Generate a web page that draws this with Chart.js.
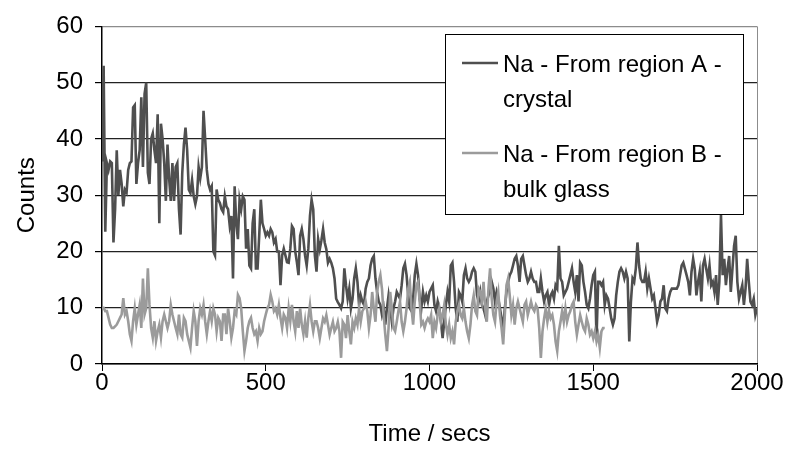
<!DOCTYPE html>
<html lang="en">
<head>
  <meta charset="UTF-8" />
  <title>Na counts</title>
  <script src="https://cdn.jsdelivr.net/npm/chart.js"></script>
  <style>
    body { margin: 0; background: #fff; }
    #wrap { width: 787px; height: 460px; }
  </style>
</head>
<body>
  <div id="wrap"><canvas id="naChart" width="787" height="460"></canvas></div>

  <script>
    // sample spacing in seconds
    const sampleStep = 5;
    const xTicks = [0, 500, 1000, 1500, 2000];
    const yTicks = [0, 10, 20, 30, 40, 50, 60];

    const labelA = ["Na - From region A -", "crystal"];
    const labelB = ["Na - From region B -", "bulk glass"];

    // region A - crystal, 0..2000 s
    const naCrystal = [
      36, 53, 23.5, 35.7, 34.5, 36, 35.7, 21.6, 27.5, 38, 30, 34.5, 32, 28, 31, 30.5, 34.5, 35.7, 36, 45.6,
      46, 32, 35.7, 38, 47.4, 35, 48, 50, 34, 32, 40, 41, 38, 35.7, 44.4, 25, 42.7, 40, 35.7, 29,
      39, 33, 29, 35.7, 29, 35, 35.7, 27.5, 23, 33.9, 39, 42, 38, 31, 30.4, 32.7, 29.8, 28.4, 29.8, 35,
      33, 35, 45, 40, 34.5, 32,
      31, 31.6, 20, 19.3, 31, 29.2, 28.6, 27.5, 27, 29.8, 28, 27.5, 24.6, 26.3, 15.2, 31.6, 25, 22.2, 29.2, 27.5,
      29.8, 29.2, 20.5, 24, 17.5, 17, 25, 27.5, 17, 17, 22.8, 29.2, 25, 24, 22.8, 23.4, 22.8, 24, 23.4, 21.6,
      22.2, 20, 20, 14, 19.3, 20.5, 19.3, 18.1, 18, 20.5, 24.5, 24, 20, 18.1, 15.8, 22.8, 24, 22.2, 19.3, 17.5,
      20.5, 26.3, 29.2, 27.5, 19.3, 16.4, 22.2,
      20.4, 22, 24, 21.6, 20.4, 18, 18.7, 18, 17, 15.2, 11.6, 11, 10.5, 9.9, 11.1, 17, 14, 11.6, 13.4, 9.9,
      11.6, 15.2, 17, 14.6, 10.5, 12.2, 11.1, 10.5, 13.4, 14.6, 15.2, 17.5, 18.7, 19.2, 15.2, 12.8, 11.1, 10.5, 8.7, 9.9,
      7, 9.9, 12.2, 9.9, 7.5, 9.9, 11.1, 12.8, 12.2, 11.6, 14, 17, 17.8, 15.8, 12.2, 9.9, 9.4, 11.6, 15.8, 17.8,
      15.8, 11.6, 9.9, 12.8, 11.1, 12.2, 11.1,
      12.8, 13.4, 14, 10.5, 9.4, 11.1, 9.9, 7.5, 4.6, 7.5, 10.5, 12.8, 11.1, 17.5, 18, 14.6, 9.9, 7.5, 12.8, 12.2,
      11.1, 15.8, 17, 15.2, 14.6, 15.2, 16.4, 17, 16.4, 12.2, 11.1, 12.8, 10.5, 9.9, 8.7, 11.1, 12.2, 12.8, 14.6, 13.4,
      11.1, 12.8, 11.6, 9.9, 8.1, 6.4, 9.9, 12.8, 14.6, 15.8, 16.4, 17.5, 18.7, 19.2, 17.5, 14.6, 18.7, 19.2, 17.5, 15.8,
      14.6, 15.2, 16.4, 15.2, 14.6, 14.6, 12.8,
      12.8, 15.2, 12.8, 11.1, 12.2, 12.8, 10.5, 12.2, 12.8, 11.6, 14, 13.4, 21, 15.2, 14.6, 12.2, 12.8, 13.4, 14.6, 15.8,
      17, 14.6, 12.8, 15.8, 11.1, 18, 17.5, 14.6, 12.8, 10.5, 9.9, 11.6, 14, 15.8, 16.4, 4.6, 14.6, 14.6, 14, 14.6,
      10.5, 12.2, 11.6, 9.9, 8.1, 7, 8.1, 12.2, 14.6, 16.4, 17, 16.4, 15.2, 16.4, 15.2, 4, 11.1, 15.2, 14.6, 17,
      21.6, 17.5, 15.2, 14.6, 14.6, 16.4, 13.4,
      15.2, 13.4, 11.6, 12.2, 9.9, 7.5, 8.7, 11.1, 11.6, 14, 9.9, 9.4, 11.6, 12.8, 13.4, 13.4, 13.4, 13.4, 14, 15.8,
      17.5, 18, 16.9, 15.8, 14.6, 12.2, 16.4, 18.7, 16.9, 12.2, 14.6, 16.4, 11.1, 17.5, 18.7, 16.9, 15.2, 17.5, 14, 14.6,
      12.8, 15.8, 10.5, 14.6, 26.5, 15.8, 18.7, 14, 16.9, 19.2, 12.8, 16.9, 21, 22.8, 14.6, 11.6, 12.8, 14, 10.5, 13.4,
      18.7, 14.6, 11.1, 10.5, 11.6, 8.7, 9.9
    ];

    // region B - bulk glass, 0..1535 s
    const naGlass = [
      10, 10, 9.4, 9.4, 8.2, 7, 6.4, 6.4, 6.7, 7, 7.6, 8.2, 8.8, 11.7, 8.8, 9.4, 7.6, 5.3, 4.1, 7.6,
      9.9, 7, 8.8, 10.5, 6.4, 15.2, 8.8, 9.9, 17, 10.5, 6.4, 4.7, 7.6, 4.1, 5.8, 7, 4.7, 7.6, 8.8, 7.6,
      6.4, 7.6, 10.5, 8.8, 7.6, 6.4, 5.3, 8.8, 5.3, 4.7, 8.2, 7.6, 5.3, 4.1, 2.9, 6.4, 9.4, 7.6, 3.2, 7.6,
      9.9, 8.8, 10.5, 7.6, 5.3, 7.6,
      9.4, 7.6, 9.9, 8.8, 5.8, 8.2, 7.6, 4.1, 8.8, 8.8, 5.3, 9.9, 7.6, 4.7, 6.4, 9.4, 8.8, 12.3, 11.7, 9.9,
      5.8, 2.3, 4.1, 6.4, 7.6, 8.2, 6.4, 5.3, 5.8, 4.1, 6.4, 5.3, 5.8, 7.6, 8.8, 9.9, 10.5, 12.3, 11.1, 9.4,
      9.9, 8.8, 10.5, 8.2, 6.4, 8.8, 8.2, 6.4, 9.9, 7.6, 10.5, 7.6, 5.8, 9.4, 6.4, 9.9, 7, 5.3, 7.6, 4.7,
      8.2, 10.5, 7.6, 5.8, 7.6, 7.6, 6.4,
      4.6, 6.4, 8.1, 7.5, 8.7, 7, 5.2, 6.4, 7.5, 5.8, 6.4, 7.5, 5.8, 1.1, 7.5, 7, 4.6, 8.7, 5.8, 3.5,
      7.5, 6.4, 8.1, 7, 9.9, 7.5, 9.4, 9.9, 11.1, 9.4, 6.4, 8.7, 12.8, 9.9, 7.5, 12.8, 14.6, 15.8, 13.3, 8.7,
      5.2, 2.3, 6.4, 12.8, 9.9, 6.4, 5.8, 7.5, 9.4, 11.1, 7.5, 5.8, 7.5, 9.9, 13.4, 14.6, 9.9, 7, 11.1, 14,
      14.6, 11.1, 7, 7.5, 6.4, 7.5, 8.1,
      7.5, 8.7, 4.6, 7.5, 6.4, 8.7, 9.9, 7.5, 8.7, 10.5, 7, 5.2, 7, 4.6, 5.8, 3.5, 7.5, 9.4, 10.5, 8.7,
      8.1, 9.9, 7.5, 5.8, 4.6, 7, 10.5, 12.2, 9.4, 8.7, 13.4, 12.8, 11.1, 14.6, 9.9, 7.5, 13.4, 17, 11.6, 8.7,
      7.5, 11.1, 12.8, 8.7, 6.4, 3.5, 8.7, 14, 15.2, 12.2, 8.7, 10.5, 7, 9.9, 11.1, 9.9, 8.7, 7.5, 10.5, 11.1,
      8.7, 9.9, 11.1, 9.9, 9.4, 10.5, 9.9,
      6.4, 1.1, 5.8, 8.1, 9.9, 7.5, 9.4, 8.1, 8.7, 7, 4, 2.3, 5.8, 7.5, 9.4, 7.5, 9.9, 7.5, 8.7, 9.4,
      10.5, 11.1, 7.5, 5.2, 7, 8.7, 7.5, 6.4, 5.8, 8.1, 7, 5.2, 5.8, 4.6, 5.8, 4, 5.2, 2.9, 5.8, 6.4,
      6.4
    ];

    const colorA = "#4f4f4f";
    const colorB = "#9b9b9b";

    function toPoints(values) {
      return values.map((v, i) => ({ x: i * sampleStep, y: v }));
    }

    // boxed legend with wrapped labels, drawn on top of the plot
    const boxLegend = {
      id: "boxLegend",
      afterDraw(chart) {
        const ctx = chart.ctx;
        const x0 = 445, y0 = 34, w = 298, h = 180;
        ctx.save();
        ctx.fillStyle = "#fff";
        ctx.fillRect(x0, y0, w, h);
        ctx.strokeStyle = "#000";
        ctx.lineWidth = 1;
        ctx.strokeRect(x0 + 0.5, y0 + 0.5, w, h);

        const entries = [
          { lines: labelA, color: colorA, y: 63 },
          { lines: labelB, color: colorB, y: 153 }
        ];
        ctx.font = "24px 'Liberation Sans', Arial, sans-serif";
        ctx.textBaseline = "middle";
        ctx.fillStyle = "#000";
        entries.forEach(e => {
          ctx.strokeStyle = e.color;
          ctx.lineWidth = 2.5;
          ctx.beginPath();
          ctx.moveTo(462, e.y);
          ctx.lineTo(498, e.y);
          ctx.stroke();
          e.lines.forEach((t, i) => ctx.fillText(t, 503, e.y + 2 + i * 35));
        });
        ctx.restore();
      }
    };

    Chart.defaults.font.family = "'Liberation Sans', Arial, sans-serif";
    Chart.defaults.font.size = 24;
    Chart.defaults.color = "#000";

    new Chart(document.getElementById("naChart"), {
      type: "line",
      data: {
        datasets: [
          {
            label: labelA.join(" "),
            data: toPoints(naCrystal),
            borderColor: colorA,
            borderWidth: 2.6,
            pointRadius: 0,
            tension: 0,
            order: 1
          },
          {
            label: labelB.join(" "),
            data: toPoints(naGlass),
            borderColor: colorB,
            borderWidth: 2.6,
            pointRadius: 0,
            tension: 0,
            order: 0
          }
        ]
      },
      options: {
        responsive: false,
        animation: false,
        layout: { padding: { top: 22, right: 30, left: 0, bottom: 0 } },
        plugins: {
          legend: { display: false },
          tooltip: { enabled: false }
        },
        scales: {
          x: {
            type: "linear",
            min: xTicks[0],
            max: xTicks[xTicks.length - 1],
            afterBuildTicks: s => { s.ticks = xTicks.map(v => ({ value: v })); },
            afterFit: s => { s.height = 96; },
            ticks: { padding: 0, font: { size: 24, lineHeight: 1 }, callback: v => String(v) },
            grid: {
              color: c => (c.tick && c.tick.value === 2000 ? "#8c8c8c" : "rgba(0,0,0,0)"),
              tickColor: "#000",
              tickLength: 7
            },
            border: { color: "#000", width: 1.5 },
            title: {
              display: true,
              text: "Time / secs",
              font: { size: 24 },
              padding: { top: 0, bottom: 11 }
            }
          },
          y: {
            min: yTicks[0],
            max: yTicks[yTicks.length - 1],
            afterBuildTicks: s => { s.ticks = yTicks.map(v => ({ value: v })); },
            afterFit: s => { s.width = 102; },
            ticks: { padding: 12, font: { size: 24 }, callback: v => String(v) },
            grid: {
              color: c => (c.tick && c.tick.value === 60 ? "#8c8c8c" : "#222"),
              tickColor: "#000",
              tickLength: 7,
              lineWidth: 1.2
            },
            border: { color: "#000", width: 1.5 },
            title: {
              display: true,
              text: "Counts",
              font: { size: 24 },
              padding: { top: 13, bottom: 0 }
            }
          }
        }
      },
      plugins: [boxLegend]
    });
  </script>
</body>
</html>
